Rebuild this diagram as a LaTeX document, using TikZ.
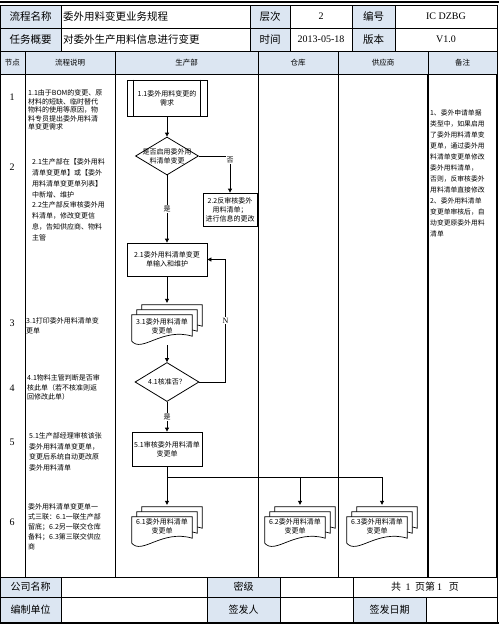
\documentclass[tikz,border=0pt]{standalone}
\usepackage{fontspec}
\setmainfont{Noto Sans CJK SC}
\newfontfamily\latin{Liberation Serif}
\usepackage{xcolor}
\usetikzlibrary{positioning, shapes.geometric, arrows.meta, calc}
\definecolor{biaotou}{RGB}{220,230,242}

% 一张单据（波浪底），#1 叠放节点，#2 #3 偏移
\newcommand{\docsheet}[3]{%
  \draw[sheet] ($(#1.north west)+(#2,12+#3)$) -- ($(#1.north east)+(-10+#2,12+#3)$)
    -- ($(#1.south east)+(-10+#2,-9+#3)$)
    .. controls ($(#1.south)+(-5+#2,-18+#3)$) and ($(#1.south)+(-25+#2,8+#3)$)
    .. ($(#1.south west)+(#2,-4+#3)$) -- cycle;}
\newcommand{\docstack}[1]{\docsheet{#1}{10}{-10}\docsheet{#1}{5}{-5}\docsheet{#1}{0}{0}}

\begin{document}
\begin{tikzpicture}[x=1pt, y=-1pt, font=\fontsize{7}{9}\selectfont,
    cell/.style={draw, line width=0.8pt, inner sep=0pt, font=\fontsize{10.5}{12}\selectfont},
    lab/.style={cell, fill=biaotou},
    colhd/.style={draw, line width=0.8pt, fill=biaotou, inner sep=0pt, minimum height=23, font=\fontsize{7.5}{9}\selectfont},
    foot/.style={cell, font=\fontsize{10}{12}\selectfont},
    proc/.style={draw, line width=0.8pt, fill=white, align=center, inner sep=1pt},
    decision/.style={diamond, draw, line width=0.8pt, fill=white, inner sep=0pt},
    stack/.style={inner sep=0pt, minimum width=70, minimum height=42},
    sheet/.style={draw, line width=0.7pt, fill=white},
    ftext/.style={align=center, inner sep=0pt},
    flow/.style={line width=0.8pt, -{Triangle[length=4pt, width=4pt]}},
    lbl/.style={fill=white, inner sep=1pt},
    desc/.style={anchor=north west, align=left, inner sep=0pt},
    rownum/.style={font=\latin\fontsize{10}{12}\selectfont}]
  \useasboundingbox (0,0) rectangle (499,626);

  % 表头
  \draw[line width=2pt] (0,2) -- (499,2);
  \node[lab, minimum width=61, minimum height=23] (mc) at (30.5,16.5) {流程名称};
  \node[cell, minimum height=23, text width=185, inner xsep=2pt, align=left] (mcz) at (155.5,16.5) {委外用料变更业务规程};
  \node[lab, minimum width=40, minimum height=23] (cc) at (270,16.5) {层次};
  \node[cell, minimum width=62, minimum height=23, font=\latin\fontsize{10}{12}\selectfont] (ccz) at (321,16.5) {2};
  \node[lab, minimum width=43, minimum height=23] (bh) at (373.5,16.5) {编号};
  \node[cell, minimum width=102, minimum height=23, font=\latin\fontsize{10}{12}\selectfont] (bhz) at (446,16.5) {IC\ DZBG};
  \node[lab, minimum width=61, minimum height=23] (rw) at (30.5,39.5) {任务概要};
  \node[cell, minimum height=23, text width=185, inner xsep=2pt, align=left] (rwz) at (155.5,39.5) {对委外生产用料信息进行变更};
  \node[lab, minimum width=40, minimum height=23] (sj) at (270,39.5) {时间};
  \node[cell, minimum width=62, minimum height=23, font=\latin\fontsize{10}{12}\selectfont] (sjz) at (321,39.5) {2013-05-18};
  \node[lab, minimum width=43, minimum height=23] (bb) at (373.5,39.5) {版本};
  \node[cell, minimum width=102, minimum height=23, font=\latin\fontsize{10}{12}\selectfont] (bbz) at (446,39.5) {V1.0};

  % 泳道标题
  \node[colhd, minimum width=25] (jd) at (12.5,62.5) {节点};
  \node[colhd, minimum width=90] (lc) at (70,62.5) {流程说明};
  \node[colhd, minimum width=143] (scb) at (186.5,62.5) {生产部};
  \node[colhd, minimum width=80] (ck) at (298,62.5) {仓库};
  \node[colhd, minimum width=90] (gys) at (383,62.5) {供应商};
  \node[colhd, minimum width=69] (bz) at (462.5,62.5) {备注};

  % 泳道
  \draw[line width=0.8pt] (0.5,74) -- (0.5,577);
  \foreach \x in {25,115,258,338} \draw[line width=0.8pt] (\x,74) -- (\x,577);
  \draw[line width=1.8pt] (428,74) -- (428,577);
  \draw[line width=1.2pt] (497,74) -- (497,577);

  % 节点编号
  \node[rownum] (n1) at (12,97) {1};
  \node[rownum] (n2) at (12,167) {2};
  \node[rownum] (n3) at (12,323) {3};
  \node[rownum] (n4) at (12,388) {4};
  \node[rownum] (n5) at (12,442) {5};
  \node[rownum] (n6) at (12,522) {6};

  % 流程说明
  \node[desc, font=\fontsize{7}{8.5}\selectfont] (s1) at (28,89.5) {1.1由于BOM的变更、原\\材料的短缺、临时替代\\物料的使用等原因，物\\料专员提出委外用料清\\单变更需求};
  \node[desc, font=\fontsize{7}{10.8}\selectfont] (s2) at (32,158.5) {2.1生产部在【委外用料\\清单变更单】或【委外\\用料清单变更单列表】\\中新增、维护\\2.2生产部反审核委外用\\料清单，修改变更信\\息，告知供应商、物料\\主管};
  \node[desc, font=\fontsize{7}{10}\selectfont] (s3) at (26,317.5) {3.1打印委外用料清单变\\更单};
  \node[desc, font=\fontsize{7}{9.5}\selectfont] (s4) at (27,374.5) {4.1物料主管判断是否审\\核此单（若不核准则返\\回修改此单）};
  \node[desc, font=\fontsize{7}{10.5}\selectfont] (s5) at (29,432.5) {5.1生产部经理审核该张\\委外用料清单变更单，\\变更后系统自动更改原\\委外用料清单};
  \node[desc, font=\fontsize{7}{10}\selectfont] (s6) at (28,503.5) {委外用料清单变更单一\\式三联：6.1一联生产部\\留底；6.2另一联交仓库\\备料；6.3第三联交供应\\商};

  % 备注
  \node[desc, font=\fontsize{6.8}{11}\selectfont] (bzt) at (430,109.5) {1、委外申请单据\\类型中，如果启用\\了委外用料清单变\\更单，通过委外用\\料清单变更单修改\\委外用料清单，\\否则，反审核委外\\用料清单直接修改\\2、委外用料清单\\变更单审核后，自\\动变更原委外用料\\清单};

  % 生产部流程
  \node[proc, minimum width=80, minimum height=36] (b11) at (167,98) {1.1委外用料变更的\\需求};
  \draw[line width=0.8pt] ($(b11.north west)+(7,0)$) -- ($(b11.south west)+(7,0)$);
  \draw[line width=0.8pt] ($(b11.north east)+(-7,0)$) -- ($(b11.south east)+(-7,0)$);
  \node[decision, minimum width=63, minimum height=38] (dia1) at (167,156) {};
  \node[ftext] (dia1t) at (dia1) {是否启用委外用\\料清单变更};
  \node[proc, minimum width=54, minimum height=33] (b22) at (230,209.5) {2.2反审核委外\\用料清单；\\进行信息的更改};
  \node[proc, minimum width=80, minimum height=33] (b21) at (167,259.5) {2.1委外用料清单变更\\单输入和维护};
  \node[stack] (d31) at (167,324) {};
  \docstack{d31}
  \node[ftext] (d31t) at ($(d31)+(-5,2)$) {3.1委外用料清单\\变更单};
  \node[decision, minimum width=64, minimum height=39] (dia4) at (167,382) {};
  \node[ftext] (dia4t) at (dia4) {4.1核准否？};
  \node[proc, minimum width=70, minimum height=34] (b51) at (167,449) {5.1审核委外用料清单\\变更单};
  \node[stack] (d61) at (167,526) {};
  \docstack{d61}
  \node[ftext] (d61t) at ($(d61)+(-5,0)$) {6.1委外用料清单\\变更单};

  % 仓库、供应商
  \node[stack] (d62) at (300,526) {};
  \docstack{d62}
  \node[ftext] (d62t) at ($(d62)+(-5,0)$) {6.2委外用料清单\\变更单};
  \node[stack] (d63) at (382,526) {};
  \docstack{d63}
  \node[ftext] (d63t) at ($(d63)+(-5,0)$) {6.3委外用料清单\\变更单};

  % 连线
  \draw[flow] (b11) -- (dia1);
  \draw[flow] (dia1.east) -| (b22.north) node[pos=0.55, lbl] {否};
  \draw[flow] (dia1) -- (b21) node[midway, lbl] {是};
  \draw[flow] (b21) -- (d31);
  \draw[flow] (d31) -- (dia4);
  \draw[flow] (dia4.east) -- ++(26,0) |- (b21.east) node[pos=0.25, lbl, font=\latin\fontsize{8}{9}\selectfont] {N};
  \draw[flow] (dia4) -- (b51) node[midway, lbl] {是};
  \coordinate (fen) at (167,477);
  \draw[flow] (b51) -- (d61);
  \draw[flow] (fen) -| (d62.north);
  \draw[flow] (fen) -| (d63.north);

  % 表尾
  \node[lab, foot, fill=biaotou, minimum width=61, minimum height=20] (gs) at (30.5,587) {公司名称};
  \node[foot, minimum width=146, minimum height=20] (gsz) at (134,587) {};
  \node[lab, foot, fill=biaotou, minimum width=73, minimum height=20] (mj) at (243.5,587) {密级};
  \node[foot, minimum width=73, minimum height=20] (mjz) at (316.5,587) {};
  \node[foot, minimum width=144, minimum height=20] (ys) at (425,587) {共\ \ {\latin 1}\ \ 页第\ {\latin 1}\ \ \ 页};
  \node[lab, foot, fill=biaotou, minimum width=61, minimum height=25] (bzdw) at (30.5,609.5) {编制单位};
  \node[foot, minimum width=146, minimum height=25] (bzdwz) at (134,609.5) {};
  \node[lab, foot, fill=biaotou, minimum width=73, minimum height=25] (qfr) at (243.5,609.5) {签发人};
  \node[foot, minimum width=73, minimum height=25] (qfrz) at (316.5,609.5) {};
  \node[lab, foot, fill=biaotou, minimum width=73, minimum height=25] (qfrq) at (389.5,609.5) {签发日期};
  \node[foot, minimum width=71, minimum height=25] (qfrqz) at (461.5,609.5) {};
  \draw[line width=2pt] (0,623) -- (499,623);
\end{tikzpicture}
\end{document}
